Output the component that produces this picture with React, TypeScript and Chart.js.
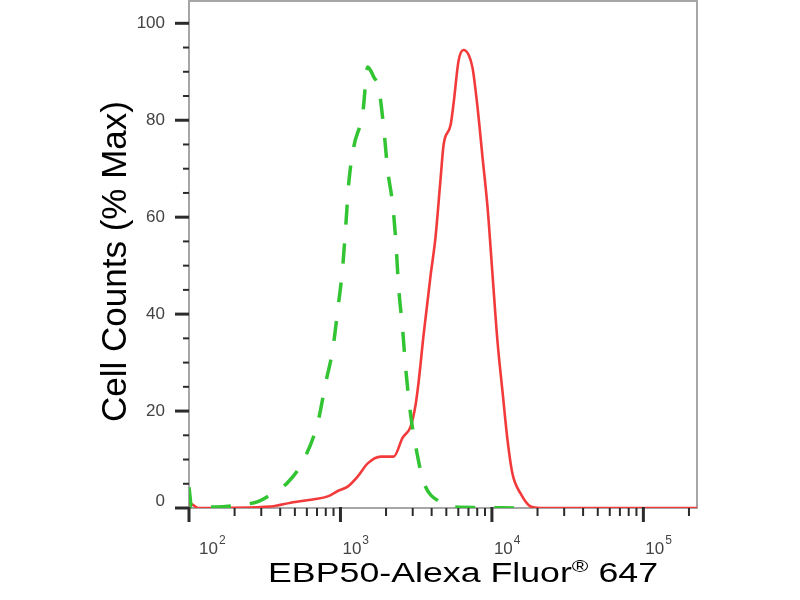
import React, { useEffect, useRef } from 'react';
import { Chart, registerables } from 'chart.js';

Chart.register(...registerables);

// isotype control (green, dashed)
const greenX = [100, 104, 150, 220, 285, 363, 450, 573, 708, 800, 889, 960, 1035, 1083, 1135, 1224, 1404, 1514, 1660, 1787, 1928, 2049, 2212, 2316, 2422, 2575, 2693, 2905, 3235, 3542, 4584, 5095, 8000, 14000];
const greenY = [4.3, 0.3, 0.2, 0.7, 1.3, 3.2, 5.3, 10, 17.6, 25.9, 32.7, 40.9, 49.8, 58, 67.1, 74.5, 81.5, 91, 88.9, 86.7, 78.6, 69.8, 62.6, 55.4, 45.5, 36.8, 29, 19.3, 10.6, 5.3, 1.1, 0.3, 0.1, 0];

// EBP50 stained sample (red)
const redX = [100, 103, 115, 347, 470, 667, 824, 960, 1117, 1300, 1514, 1845, 2245, 2575, 2905, 3134, 3281, 3542, 3937, 4247, 4584, 4800, 5335, 5585, 6025, 6500, 7015, 7450, 8040, 8675, 9360, 10100, 10890, 11750, 12680, 13680, 15450, 18000, 20900, 226000];
const redY = [0.6, 0.8, 0, 0.3, 1.1, 1.8, 2.4, 3.5, 4.4, 6.5, 9.2, 10.6, 10.6, 14.5, 16.8, 21.3, 26, 35.8, 48, 56, 68, 75, 79, 83.5, 92.3, 94.5, 93.5, 90.8, 82.6, 72.3, 62, 48, 34.3, 24, 14, 7, 3, 0.3, 0, 0];

const yMajorTicks = [0, 20, 40, 60, 80, 100];
const yTickLabels = ['0', '20', '40', '60', '80', '100'];
const yMinorTicks = [5, 10, 15, 25, 30, 35, 45, 50, 55, 65, 70, 75, 85, 90, 95];
const xMajorTicks = [100, 1000, 10000, 100000];
const xTickExponents = ['2', '3', '4', '5'];
const xMinorTicks = [
  200, 300, 400, 500, 600, 700, 800, 900,
  2000, 3000, 4000, 5000, 6000, 7000, 8000, 9000,
  20000, 30000, 40000, 50000, 60000, 70000, 80000, 90000,
  200000,
];

const FONT = '"Liberation Sans", Arial, sans-serif';

const toPoints = (xs: number[], ys: number[]) => xs.map((x, i) => ({ x, y: ys[i] }));

const axesPlugin = {
  id: 'flowAxes',
  beforeDatasetsDraw(chart: any) {
    const { ctx, chartArea: a } = chart;
    ctx.save();
    ctx.strokeStyle = '#a6a6a6';
    ctx.lineWidth = 2;
    ctx.strokeRect(a.left, a.top, a.right - a.left, a.bottom - a.top);
    ctx.restore();
  },
  afterDraw(chart: any) {
    const { ctx, chartArea: a, scales } = chart;
    const xs = scales.x;
    const ys = scales.y;
    const line = (x1: number, y1: number, x2: number, y2: number, w: number) => {
      ctx.lineWidth = w;
      ctx.beginPath();
      ctx.moveTo(x1, y1);
      ctx.lineTo(x2, y2);
      ctx.stroke();
    };
    ctx.save();
    ctx.strokeStyle = '#2b2b2b';

    yMinorTicks.forEach(v => {
      const y = ys.getPixelForValue(v);
      line(a.left - 6, y, a.left, y, 2);
    });
    yMajorTicks.forEach(v => {
      const y = ys.getPixelForValue(v);
      line(a.left - 14, y, a.left, y, 3);
    });
    xMinorTicks.forEach(v => {
      const x = xs.getPixelForValue(v);
      if (x > a.right) return;
      line(x, a.bottom, x, a.bottom + 8, 2);
    });
    xMajorTicks.forEach(v => {
      const x = xs.getPixelForValue(v);
      line(x, a.bottom - 1, x, a.bottom + 14, 3);
    });

    // y tick labels
    ctx.fillStyle = '#444';
    ctx.font = `17px ${FONT}`;
    ctx.textAlign = 'right';
    ctx.textBaseline = 'middle';
    yMajorTicks.forEach((v, i) => {
      const y = Math.min(ys.getPixelForValue(v), a.bottom - 7);
      ctx.fillText(yTickLabels[i], a.left - 24, y);
    });

    // x tick labels (10^n)
    ctx.textAlign = 'left';
    ctx.textBaseline = 'alphabetic';
    xMajorTicks.forEach((v, i) => {
      const x = Math.max(xs.getPixelForValue(v) + 2, a.left + 10);
      ctx.font = `17px ${FONT}`;
      ctx.fillText('10', x, a.bottom + 46);
      const w = ctx.measureText('10').width;
      ctx.font = `12px ${FONT}`;
      ctx.fillText(xTickExponents[i], x + w + 1, a.bottom + 36);
    });

    // y title
    ctx.fillStyle = '#000';
    ctx.save();
    ctx.translate(126, (a.top + a.bottom) / 2 + 7);
    ctx.rotate(-Math.PI / 2);
    ctx.textAlign = 'center';
    ctx.font = `35px ${FONT}`;
    ctx.fillText('Cell Counts (% Max)', 0, 0);
    ctx.restore();

    // x title, drawn wide like the source
    const parts = ['EBP50-Alexa Fluor', '\u00AE', ' 647'];
    ctx.font = `27px ${FONT}`;
    const w0 = ctx.measureText(parts[0]).width;
    const w2 = ctx.measureText(parts[2]).width;
    ctx.font = `17px ${FONT}`;
    const w1 = ctx.measureText(parts[1]).width;
    const total = w0 + w1 + w2;
    const sx = 390 / total;
    ctx.save();
    ctx.translate(268, 582);
    ctx.scale(sx, 1);
    ctx.font = `27px ${FONT}`;
    ctx.fillText(parts[0], 0, 0);
    ctx.font = `17px ${FONT}`;
    ctx.fillText(parts[1], w0, -10);
    ctx.font = `27px ${FONT}`;
    ctx.fillText(parts[2], w0 + w1, 0);
    ctx.restore();

    ctx.restore();
  },
};

const App: React.FC = () => {
  const canvasRef = useRef<HTMLCanvasElement>(null);
  const chartRef = useRef<Chart | null>(null);

  useEffect(() => {
    if (!canvasRef.current) return;
    if (chartRef.current) chartRef.current.destroy();

    chartRef.current = new Chart(canvasRef.current, {
      type: 'line',
      data: {
        datasets: [
          {
            label: 'Isotype',
            data: toPoints(greenX, greenY),
            borderColor: '#33c433',
            borderWidth: 3.5,
            borderDash: [20, 19],
            cubicInterpolationMode: 'monotone',
            pointRadius: 0,
            fill: false,
          },
          {
            label: 'EBP50',
            data: toPoints(redX, redY),
            borderColor: '#f23a3a',
            borderWidth: 2.6,
            cubicInterpolationMode: 'monotone',
            pointRadius: 0,
            fill: false,
          },
        ],
      },
      options: {
        responsive: false,
        animation: false,
        layout: { padding: { left: 189, right: 103, top: 1, bottom: 92 } },
        scales: {
          x: { type: 'logarithmic', min: 100, max: 226000, display: false },
          y: { type: 'linear', min: 0, max: 104.6, display: false },
        },
        plugins: {
          legend: { display: false },
          tooltip: { enabled: false },
        },
      },
      plugins: [axesPlugin],
    });

    return () => {
      if (chartRef.current) {
        chartRef.current.destroy();
        chartRef.current = null;
      }
    };
  }, []);

  return (
    <div style={{ position: 'absolute', left: 0, top: 0, width: 800, height: 600, background: '#fff' }}>
      <canvas ref={canvasRef} width={800} height={600}></canvas>
    </div>
  );
};

export default App;
